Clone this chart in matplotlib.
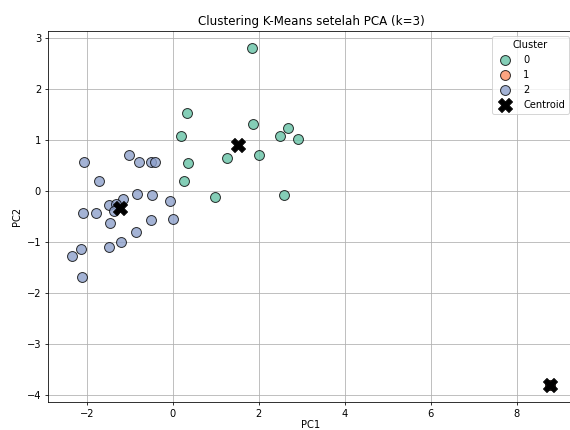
import numpy as np
import matplotlib
matplotlib.use("Agg")
import matplotlib.pyplot as plt

# PCA coordinates of each sample, grouped by K-Means label
pc1_c0 = [1.85, 0.32, 0.20, 1.86, 2.68, 2.49, 2.92, 0.36, 1.27, 2.00, 0.27, 0.98, 2.58]
pc2_c0 = [2.80, 1.52, 1.08, 1.31, 1.24, 1.08, 1.01, 0.54, 0.65, 0.71, 0.20, -0.11, -0.08]

pc1_c1 = [8.78]
pc2_c1 = [-3.80]

pc1_c2 = [-2.08, -1.01, -0.78, -0.50, -0.42, -1.71, -0.83, -0.48, -0.06, -1.48, -1.17, -1.33,
          -1.36, -2.10, -1.80, -0.52, 0.00, -1.46, -0.86, -1.21, -1.48, -2.13, -2.35, -2.12]
pc2_c2 = [0.56, 0.71, 0.57, 0.57, 0.57, 0.19, -0.06, -0.08, -0.20, -0.28, -0.16, -0.26,
          -0.40, -0.43, -0.43, -0.56, -0.54, -0.63, -0.80, -0.99, -1.10, -1.14, -1.27, -1.69]

centroid_pc1 = [1.52, 8.78, -1.23]
centroid_pc2 = [0.90, -3.80, -0.33]

clusters = ["0", "1", "2"]
colors = ["#66c2a5", "#fc8d62", "#8da0cb"]

fig = plt.figure(figsize=(8.0, 430 / 71.25), dpi=71.25)
ax = fig.add_axes([48 / 570, 1 - 402 / 430, (574 - 48) / 570, (402 - 31) / 430])

groups = [(pc1_c0, pc2_c0), (pc1_c1, pc2_c1), (pc1_c2, pc2_c2)]
for (xs, ys), lab, col in zip(groups, clusters, colors):
    ax.scatter(xs, ys, s=100, c=col, edgecolors="k", linewidths=1, alpha=0.8, label=lab, zorder=3)

ax.scatter(centroid_pc1, centroid_pc2, s=200, c="black", marker="X", label="Centroid", zorder=4)

ax.margins(0.05)
ax.set_title("Clustering K-Means setelah PCA (k=3)")
ax.set_xlabel("PC1", labelpad=1)
ax.set_ylabel("PC2")
ax.grid(True)
ax.set_axisbelow(True)
ax.legend(title="Cluster", loc="upper right")

fig.savefig("out.png", dpi=71.25)
